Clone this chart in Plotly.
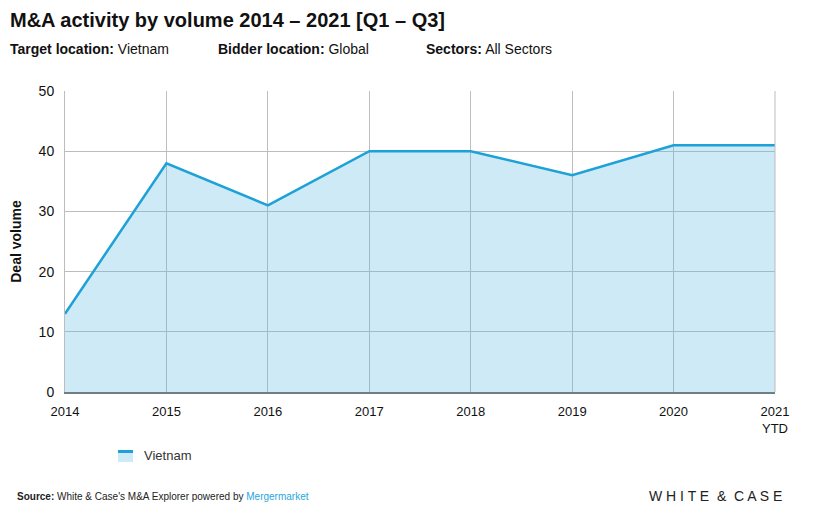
import plotly.graph_objects as go

years = ["2014", "2015", "2016", "2017", "2018", "2019", "2020", "2021"]
tick_labels = ["2014", "2015", "2016", "2017", "2018", "2019", "2020", "2021<br>YTD"]
vietnam = [13, 38, 31, 40, 40, 36, 41, 41]
y_ticks = [0, 10, 20, 30, 40, 50]
series_name = "Vietnam"

FONT = "Liberation Sans"
LINE = "#1da1d6"
FILL = "rgba(88,185,225,0.3)"
GRID = "#bdbdbd"

x_idx = list(range(len(years)))

fig = go.Figure()
fig.add_trace(go.Scatter(
    x=x_idx, y=vietnam, mode="lines", name=series_name,
    line=dict(color=LINE, width=2.5),
    fill="tozeroy", fillcolor=FILL, showlegend=False,
))

# page body has an 8px margin; figure sized to fit the 825x522 window
fig.update_layout(
    width=817, height=514,
    margin=dict(l=57, r=50, t=83, b=130, autoexpand=False),
    paper_bgcolor="white", plot_bgcolor="white",
    font=dict(family=FONT, color="#111", size=13),
    showlegend=False,
    xaxis=dict(
        range=[0, 7], tickmode="array", tickvals=x_idx, ticktext=tick_labels,
        showgrid=True, gridcolor=GRID, gridwidth=1,
        showline=True, linecolor="#6f7f86", linewidth=1.5,
        ticks="outside", ticklen=7, tickcolor="rgba(0,0,0,0)",
        zeroline=False, tickfont=dict(size=13, color="#111"),
        automargin=False,
    ),
    yaxis=dict(
        range=[0, 50], tickmode="array", tickvals=y_ticks,
        showgrid=True, gridcolor=GRID, gridwidth=1,
        showline=True, linecolor=GRID, linewidth=1,
        ticks="outside", ticklen=7, tickcolor="rgba(0,0,0,0)",
        zeroline=False, tickfont=dict(size=14, color="#111"),
        title=dict(text="<b>Deal volume</b>", font=dict(size=14, color="#111"), standoff=14),
        automargin=False,
    ),
)

# right border line
fig.add_shape(type="line", xref="paper", yref="paper", x0=1, x1=1, y0=0, y1=1,
              line=dict(color=GRID, width=1))

# legend (manual, to match small swatch)
fig.add_shape(type="rect", xref="paper", yref="paper", x0=0.0746, x1=0.0958, y0=-0.2326, y1=-0.1927,
              line=dict(width=0), fillcolor="#cdeaf6")
fig.add_shape(type="rect", xref="paper", yref="paper", x0=0.0746, x1=0.0958, y0=-0.2027, y1=-0.1927,
              line=dict(width=0), fillcolor=LINE)
fig.add_annotation(text=series_name, xref="paper", yref="paper", x=0.1085, y=-0.2126,
                   xanchor="left", yanchor="middle", showarrow=False,
                   font=dict(size=13, color="#333", family=FONT))

fig.add_annotation(text="<b>M&A activity by volume 2014 – 2021 [Q1 – Q3]</b>",
                   xref="paper", yref="paper", x=-0.08, y=1.0, xanchor="left", yanchor="bottom",
                   yshift=58, showarrow=False, font=dict(size=20, color="#111", family=FONT))
fig.add_annotation(text="<b>Target location:</b> Vietnam",
                   xref="paper", yref="paper", x=-0.08, y=1.0, xanchor="left", yanchor="bottom",
                   yshift=32, showarrow=False, font=dict(size=14, color="#111", family=FONT))
fig.add_annotation(text="<b>Bidder location:</b> Global",
                   xref="paper", yref="paper", x=0.213, y=1.0, xanchor="left", yanchor="bottom",
                   yshift=32, showarrow=False, font=dict(size=14, color="#111", family=FONT))
fig.add_annotation(text="<b>Sectors:</b> All Sectors",
                   xref="paper", yref="paper", x=0.505, y=1.0, xanchor="left", yanchor="bottom",
                   yshift=32, showarrow=False, font=dict(size=14, color="#111", family=FONT))
fig.add_annotation(text="<b>Source:</b> White & Case's M&A Explorer powered by <span style='color:#2aa7dc'>Mergermarket</span>",
                   xref="paper", yref="paper", x=-0.071, y=0, xanchor="left", yanchor="middle",
                   yshift=-104, showarrow=False, font=dict(size=10, color="#222", family=FONT))
fig.add_annotation(text="W H I T E  &  C A S E",
                   xref="paper", yref="paper", x=1.0124, y=0, xanchor="right", yanchor="middle",
                   yshift=-104, showarrow=False, font=dict(size=14, color="#222", family=FONT))

fig.write_html("out.html")
